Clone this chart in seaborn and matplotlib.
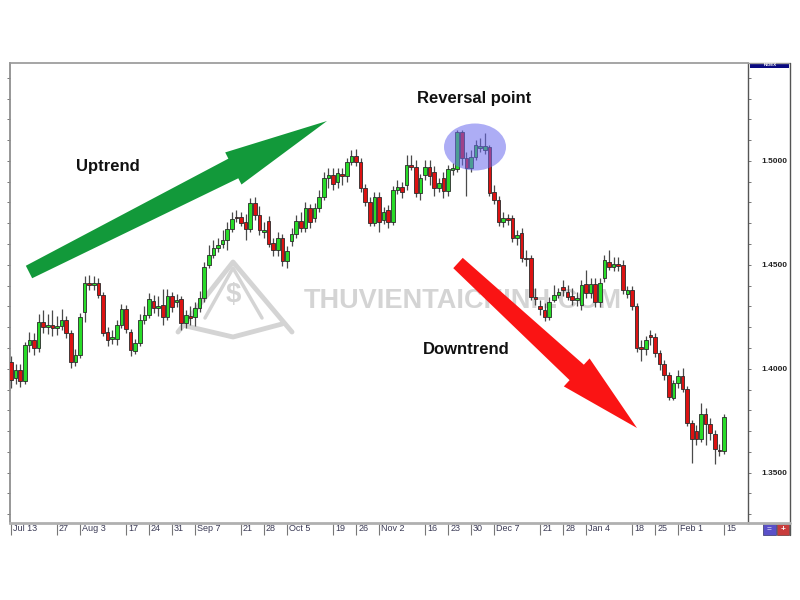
import numpy as np
import pandas as pd
import seaborn as sns
import matplotlib
matplotlib.use('Agg')
import matplotlib.pyplot as plt
import matplotlib.transforms as mtransforms
from matplotlib.patches import Polygon, Ellipse, Rectangle
from matplotlib.ticker import MultipleLocator, FormatStrFormatter

# daily candles, EUR/USD style index, Jul 13 2009 -> Feb 15 2010
opens = [1.4032, 1.3956, 1.3994, 1.3941, 1.4115, 1.4139, 1.4101, 1.4225, 1.4201, 1.4211,
         1.4197, 1.4206, 1.4235, 1.4173, 1.4032, 1.4067, 1.4273, 1.4413, 1.4403, 1.4413,
         1.4355, 1.4177, 1.4144, 1.4144, 1.4211, 1.4288, 1.4177, 1.4086, 1.4125, 1.4235,
         1.4259, 1.4326, 1.4293, 1.4307, 1.4249, 1.4350, 1.4321, 1.4336, 1.4221, 1.4254,
         1.4249, 1.4293, 1.4341, 1.4499, 1.4548, 1.4582, 1.4601, 1.4620, 1.4673, 1.4730,
         1.4730, 1.4706, 1.4673, 1.4798, 1.4740, 1.4658, 1.4711, 1.4606, 1.4572, 1.4630,
         1.4518, 1.4615, 1.4649, 1.4711, 1.4678, 1.4774, 1.4726, 1.4774, 1.4826, 1.4918,
         1.4932, 1.4898, 1.4937, 1.4927, 1.4994, 1.5024, 1.4994, 1.4870, 1.4802, 1.4702,
         1.4827, 1.4716, 1.4764, 1.4706, 1.4860, 1.4874, 1.4884, 1.4980, 1.4970, 1.4845,
         1.4932, 1.4970, 1.4946, 1.4870, 1.4918, 1.4855, 1.4956, 1.4961, 1.5139, 1.5014,
         1.4966, 1.5019, 1.5063, 1.5053, 1.5067, 1.4850, 1.4812, 1.4706, 1.4726, 1.4726,
         1.4630, 1.4654, 1.4534, 1.4534, 1.4346, 1.4302, 1.4283, 1.4249, 1.4331, 1.4355,
         1.4394, 1.4369, 1.4350, 1.4331, 1.4307, 1.4408, 1.4365, 1.4408, 1.4321, 1.4437,
         1.4514, 1.4490, 1.4504, 1.4499, 1.4360, 1.4379, 1.4302, 1.4106, 1.4096, 1.4163,
         1.4153, 1.4077, 1.4023, 1.3970, 1.3859, 1.3931, 1.3965, 1.3903, 1.3740, 1.3701,
         1.3663, 1.3783, 1.3735, 1.3687, 1.3610, 1.3605]

closes = [1.3946, 1.3994, 1.3941, 1.4115, 1.4139, 1.4101, 1.4225, 1.4201, 1.4211, 1.4197,
          1.4206, 1.4235, 1.4173, 1.4032, 1.4067, 1.4249, 1.4413, 1.4403, 1.4413, 1.4355,
          1.4173, 1.4139, 1.4153, 1.4211, 1.4288, 1.4192, 1.4091, 1.4125, 1.4235, 1.4259,
          1.4336, 1.4293, 1.4302, 1.4249, 1.4350, 1.4297, 1.4331, 1.4221, 1.4259, 1.4245,
          1.4293, 1.4341, 1.4489, 1.4548, 1.4582, 1.4596, 1.4620, 1.4673, 1.4721, 1.4726,
          1.4702, 1.4673, 1.4798, 1.4740, 1.4668, 1.4668, 1.4601, 1.4572, 1.4630, 1.4518,
          1.4567, 1.4649, 1.4711, 1.4678, 1.4774, 1.4706, 1.4774, 1.4826, 1.4918, 1.4932,
          1.4889, 1.4942, 1.4927, 1.4994, 1.5024, 1.4994, 1.4870, 1.4802, 1.4702, 1.4827,
          1.4706, 1.4754, 1.4706, 1.4860, 1.4874, 1.4850, 1.4980, 1.4970, 1.4845, 1.4918,
          1.4970, 1.4927, 1.4870, 1.4894, 1.4855, 1.4961, 1.4966, 1.5139, 1.5014, 1.4966,
          1.5019, 1.5077, 1.5072, 1.5072, 1.4845, 1.4812, 1.4706, 1.4726, 1.4716, 1.4630,
          1.4644, 1.4534, 1.4528, 1.4346, 1.4336, 1.4288, 1.4249, 1.4321, 1.4355, 1.4369,
          1.4379, 1.4346, 1.4331, 1.4341, 1.4403, 1.4365, 1.4408, 1.4321, 1.4413, 1.4523,
          1.4490, 1.4504, 1.4494, 1.4379, 1.4379, 1.4302, 1.4101, 1.4096, 1.4139, 1.4153,
          1.4077, 1.4023, 1.3970, 1.3864, 1.3931, 1.3965, 1.3903, 1.3740, 1.3663, 1.3663,
          1.3783, 1.3735, 1.3692, 1.3615, 1.3605, 1.3768]

highs = [1.4062, 1.4023, 1.4023, 1.4129, 1.4177, 1.4173, 1.4264, 1.4283, 1.4264, 1.4283,
         1.4254, 1.4288, 1.4254, 1.4187, 1.4096, 1.4269, 1.4446, 1.4451, 1.4446, 1.4437,
         1.4369, 1.4201, 1.4187, 1.4235, 1.4312, 1.4307, 1.4192, 1.4144, 1.4264, 1.4302,
         1.4365, 1.4355, 1.4350, 1.4384, 1.4384, 1.4369, 1.4360, 1.4350, 1.4283, 1.4302,
         1.4321, 1.4374, 1.4513, 1.4596, 1.4620, 1.4630, 1.4668, 1.4706, 1.4754, 1.4764,
         1.4754, 1.4745, 1.4822, 1.4827, 1.4783, 1.4706, 1.4735, 1.4630, 1.4658, 1.4649,
         1.4591, 1.4678, 1.4740, 1.4754, 1.4802, 1.4793, 1.4798, 1.4860, 1.4946, 1.4966,
         1.4966, 1.4966, 1.4966, 1.5014, 1.5053, 1.5058, 1.5014, 1.4889, 1.4827, 1.4850,
         1.4850, 1.4778, 1.4788, 1.4879, 1.4908, 1.4898, 1.5029, 1.5029, 1.5004, 1.4937,
         1.5004, 1.5004, 1.4975, 1.4918, 1.4946, 1.4980, 1.4990, 1.5149, 1.5149, 1.5043,
         1.5053, 1.5101, 1.5111, 1.5135, 1.5077, 1.4884, 1.4831, 1.4754, 1.4745, 1.4740,
         1.4668, 1.4678, 1.4572, 1.4548, 1.4389, 1.4331, 1.4317, 1.4346, 1.4403, 1.4389,
         1.4427, 1.4403, 1.4389, 1.4369, 1.4427, 1.4475, 1.4437, 1.4437, 1.4437, 1.4548,
         1.4572, 1.4538, 1.4538, 1.4523, 1.4398, 1.4398, 1.4317, 1.4139, 1.4158, 1.4187,
         1.4173, 1.4091, 1.4042, 1.3984, 1.3946, 1.3994, 1.4004, 1.3917, 1.3754, 1.3730,
         1.3836, 1.3812, 1.3764, 1.3706, 1.3639, 1.3783]

lows = [1.3908, 1.3927, 1.3912, 1.3927, 1.4081, 1.4067, 1.4081, 1.4173, 1.4168, 1.4158,
        1.4163, 1.4187, 1.4149, 1.4004, 1.4013, 1.4052, 1.4225, 1.4379, 1.4379, 1.4341,
        1.4158, 1.4110, 1.4120, 1.4115, 1.4197, 1.4173, 1.4062, 1.4072, 1.4110, 1.4216,
        1.4245, 1.4269, 1.4254, 1.4211, 1.4235, 1.4273, 1.4297, 1.4187, 1.4197, 1.4211,
        1.4206, 1.4273, 1.4321, 1.4485, 1.4534, 1.4562, 1.4582, 1.4572, 1.4658, 1.4706,
        1.4687, 1.4620, 1.4658, 1.4716, 1.4644, 1.4630, 1.4586, 1.4543, 1.4543, 1.4494,
        1.4485, 1.4591, 1.4630, 1.4658, 1.4658, 1.4678, 1.4706, 1.4754, 1.4812, 1.4870,
        1.4860, 1.4870, 1.4884, 1.4898, 1.4980, 1.4975, 1.4850, 1.4783, 1.4687, 1.4687,
        1.4658, 1.4697, 1.4678, 1.4692, 1.4841, 1.4822, 1.4860, 1.4956, 1.4827, 1.4812,
        1.4908, 1.4884, 1.4831, 1.4850, 1.4822, 1.4831, 1.4932, 1.4946, 1.4980, 1.4831,
        1.4946, 1.5004, 1.5043, 1.5034, 1.4831, 1.4793, 1.4687, 1.4682, 1.4692, 1.4610,
        1.4596, 1.4514, 1.4494, 1.4331, 1.4307, 1.4259, 1.4230, 1.4235, 1.4321, 1.4341,
        1.4350, 1.4331, 1.4307, 1.4302, 1.4283, 1.4341, 1.4341, 1.4297, 1.4297, 1.4418,
        1.4475, 1.4470, 1.4470, 1.4360, 1.4341, 1.4283, 1.4081, 1.4037, 1.4067, 1.4115,
        1.4058, 1.3994, 1.3946, 1.3850, 1.3850, 1.3908, 1.3888, 1.3725, 1.3547, 1.3634,
        1.3649, 1.3634, 1.3658, 1.3542, 1.3581, 1.3591]

tick_dates = ['2009-07-13', '2009-07-27', '2009-08-03', '2009-08-17', '2009-08-24', '2009-08-31',
              '2009-09-07', '2009-09-21', '2009-09-28', '2009-10-05', '2009-10-19', '2009-10-26',
              '2009-11-02', '2009-11-16', '2009-11-23', '2009-11-30', '2009-12-07', '2009-12-21',
              '2009-12-28', '2010-01-04', '2010-01-18', '2010-01-25', '2010-02-01', '2010-02-15']
tick_labels = ['Jul 13', '27', 'Aug 3', '17', '24', '31', 'Sep 7', '21', '28', 'Oct 5', '19', '26',
               'Nov 2', '16', '23', '30', 'Dec 7', '21', '28', 'Jan 4', '18', '25', 'Feb 1', '15']

sns.set_theme(style='white')
plt.rcParams['font.family'] = ['Liberation Sans', 'DejaVu Sans']

df = pd.DataFrame({'open': opens, 'high': highs, 'low': lows, 'close': closes},
                  index=pd.bdate_range('2009-07-13', periods=len(closes)))
df['pos'] = np.arange(len(df))
df['up'] = df['close'] >= df['open']

fig = plt.figure(figsize=(8, 6), dpi=100, facecolor='white')

# watermark layer behind the chart
bg = fig.add_axes([0, 0, 1, 1], zorder=0)
bg.set_xlim(0, 800)
bg.set_ylim(600, 0)
bg.axis('off')
wm = '#d4d4d4'
bg.text(304, 301, 'THUVIENTAICHINH.COM', fontsize=19.5, fontweight='bold', color=wm,
        ha='left', va='center')
bg.plot([178, 233, 292], [332, 262, 332], color=wm, lw=3.5, solid_capstyle='round')
bg.plot([205, 233, 262], [318, 268, 318], color=wm, lw=2.5)
bg.plot([186, 233, 282], [326, 337, 324], color=wm, lw=3.5)
bg.text(233, 295, '$', fontsize=20, fontweight='bold', color=wm, ha='center', va='center')

# main chart
ax = fig.add_axes([10 / 800, 77 / 600, 738 / 800, 460 / 600], zorder=1)
ax.set_facecolor('none')

sns.despine(ax=ax, top=False, right=False, left=False, bottom=False)
ax.vlines(df['pos'], df['low'], df['high'], color='#4a4a4a', linewidth=0.9, zorder=2)
body_col = np.where(df['up'], '#28dc28', '#dc1212')
ax.bar(df['pos'], (df['close'] - df['open']).abs().clip(lower=0.00015),
       bottom=df[['open', 'close']].min(axis=1), width=0.78, color=body_col,
       edgecolor='#2a2a2a', linewidth=0.6, zorder=3)

ax.set_xlim(-0.2, 160.2)
ax.set_ylim(1.3258, 1.5471)

tick_pos = [df.index.get_loc(pd.Timestamp(d)) for d in tick_dates]
ax.set_xticks(tick_pos)
ax.set_xticklabels(tick_labels)
ax.tick_params(axis='x', direction='out', length=8.5, width=0.8, color='#777777',
               pad=-7.5, labelsize=6.5, labelcolor='#3a3a55', bottom=True)
offset = mtransforms.ScaledTranslation(1.5 / 72, 0, fig.dpi_scale_trans)
for lbl in ax.get_xticklabels():
    lbl.set_horizontalalignment('left')
    lbl.set_transform(lbl.get_transform() + offset)

ax.yaxis.set_major_locator(MultipleLocator(0.05))
ax.yaxis.set_minor_locator(MultipleLocator(0.01))
ax.yaxis.set_major_formatter(FormatStrFormatter('%.4f'))
ax.tick_params(axis='y', which='both', left=True, right=True, labelleft=False,
               labelright=True, direction='out', length=2.5, width=0.7, color='#777777')
ax.tick_params(axis='y', which='major', pad=7, labelsize=6, labelcolor='#222222')
for lbl in ax.get_yticklabels():
    lbl.set_fontweight('bold')

ax.spines['top'].set_color('#9a9a9a')
ax.spines['left'].set_color('#8a8a8a')
ax.spines['bottom'].set_color('#b0b0b0')
ax.spines['bottom'].set_linewidth(2)
ax.spines['right'].set_color('#555555')
ax.spines['right'].set_linewidth(1)
ax.set_xlabel('')
ax.set_ylabel('')

# annotation layer on top
ov = fig.add_axes([0, 0, 1, 1], zorder=5)
ov.set_xlim(0, 800)
ov.set_ylim(600, 0)
ov.axis('off')
ov.patch.set_alpha(0)


def arrow_shape(tail, tip, w_tail, w_neck, head_w, head_len):
    tail = np.array(tail, float)
    tip = np.array(tip, float)
    u = (tip - tail) / np.linalg.norm(tip - tail)
    n = np.array([-u[1], u[0]])
    neck = tip - head_len * u
    pts = [tail + n * w_tail / 2, neck + n * w_neck / 2, neck + n * head_w / 2, tip,
           neck - n * head_w / 2, neck - n * w_neck / 2, tail - n * w_tail / 2]
    return np.array(pts)


ov.add_patch(Polygon(arrow_shape((29, 272), (327, 121), 14, 22, 36, 105),
                     closed=True, facecolor='#12993a', edgecolor='none'))
ov.add_patch(Polygon(arrow_shape((458, 263), (637, 428), 14, 21, 38, 82),
                     closed=True, facecolor='#fa1414', edgecolor='none'))
ov.add_patch(Ellipse((475, 147), 62, 47, facecolor='#6a6aee', alpha=0.55, edgecolor='none'))

ov.text(76, 167, 'Uptrend', fontsize=12, fontweight='bold', color='#111111', ha='left', va='center')
ov.text(417, 98, 'Reversal point', fontsize=12, fontweight='bold', color='#111111', ha='left', va='center')
ov.text(423, 349, 'Downtrend', fontsize=12, fontweight='bold', color='#111111', ha='left', va='center')

# right price panel frame
ov.plot([748, 789.5], [63, 63], color='#9a9a9a', lw=1)
ov.plot([789.5, 789.5], [63, 535], color='#555555', lw=1)
ov.plot([748, 789.5], [523, 523], color='#b0b0b0', lw=2)
ov.add_patch(Rectangle((750, 63), 39, 5, facecolor='#0a0a80', edgecolor='none'))
ov.text(770, 65.5, 'INDEX', fontsize=3.2, color='white', ha='center', va='center', fontweight='bold')
ov.add_patch(Rectangle((763, 524), 12.5, 11, facecolor='#5a50c8', edgecolor='#333366', lw=0.5))
ov.add_patch(Rectangle((776.5, 524), 12.5, 11, facecolor='#c83c3c', edgecolor='#663333', lw=0.5))
ov.text(769.2, 529.5, '=', fontsize=6, color='white', ha='center', va='center')
ov.text(782.7, 529.5, '+', fontsize=6, color='white', ha='center', va='center', fontweight='bold')

fig.savefig('out.png', dpi=100, facecolor='white')
